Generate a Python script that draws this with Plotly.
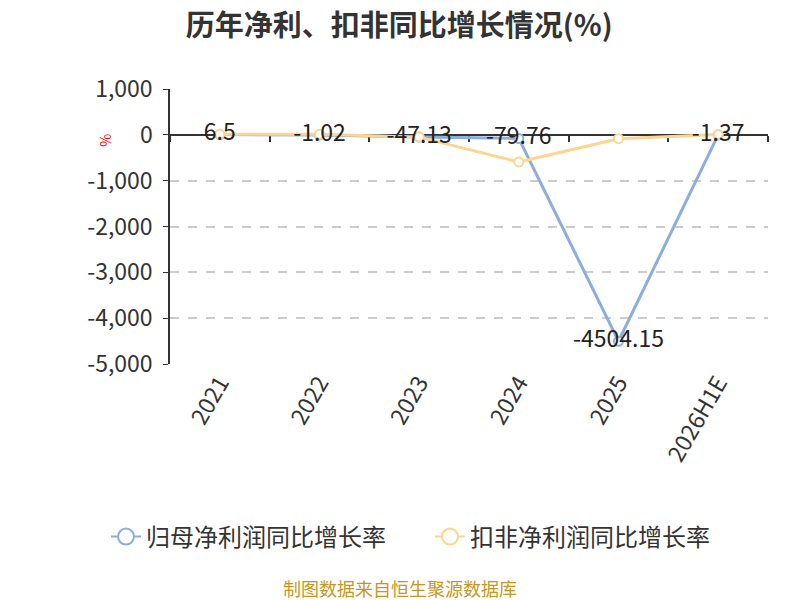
import plotly.graph_objects as go

years = ["2021", "2022", "2023", "2024", "2025", "2026H1E"]
net_profit_yoy = [6.5, -1.02, -47.13, -79.76, -4504.15, -1.37]
deducted_yoy = [10, 10, -50, -590, -85, 5]
net_labels = ["6.5", "-1.02", "-47.13", "-79.76", "-4504.15", "-1.37"]

y_ticks = [1000, 0, -1000, -2000, -3000, -4000, -5000]
y_tick_labels = ["1,000", "0", "-1,000", "-2,000", "-3,000", "-4,000", "-5,000"]

blue = "#8daedc"
orange = "#fdd591"
font_cn = "Noto Sans CJK SC"

fig = go.Figure()

fig.add_trace(go.Scatter(
    x=years, y=net_profit_yoy, mode="lines+markers", showlegend=False,
    line=dict(color=blue, width=3),
    marker=dict(size=9, color="white", line=dict(color=blue, width=2)),
))
fig.add_trace(go.Scatter(
    x=years, y=deducted_yoy, mode="lines+markers", showlegend=False,
    line=dict(color=orange, width=3),
    marker=dict(size=9, color="white", line=dict(color=orange, width=2)),
))
# data labels for the net profit series
fig.add_trace(go.Scatter(
    x=years, y=net_profit_yoy, mode="text", text=net_labels,
    textposition="middle center", showlegend=False, hoverinfo="skip",
    textfont=dict(size=23, color="#222", family=font_cn),
))

# legend entries with big hollow markers
for name, col in [("归母净利润同比增长率", blue), ("扣非净利润同比增长率", orange)]:
    fig.add_trace(go.Scatter(
        x=[None], y=[None], mode="lines+markers", name=name,
        line=dict(color=col, width=2),
        marker=dict(size=20, color="white", line=dict(color=col, width=2)),
    ))

# category axis line drawn at y = 0 with ticks on boundaries
fig.add_trace(go.Scatter(
    x=[-0.5, len(years) - 0.5], y=[0, 0], xaxis="x2", mode="none",
    showlegend=False, hoverinfo="skip",
))

zero_pos = (0 - y_ticks[-1]) / (y_ticks[0] - y_ticks[-1])

# page has an 8px body margin, so the figure is a bit smaller than the window
fig.update_layout(
    width=792, height=592,
    margin=dict(l=162, r=32, t=81, b=236),
    paper_bgcolor="white", plot_bgcolor="white",
    font=dict(family=font_cn, color="#333"),
    title=dict(text="<b>历年净利、扣非同比增长情况(%)</b>", x=0.494, xanchor="center",
               y=0.970, yanchor="middle", font=dict(size=29, color="#333")),
    xaxis=dict(type="category", showline=False, ticks="", showgrid=False,
               zeroline=False, tickangle=-60, tickfont=dict(size=23, color="#333"),
               range=[-0.5, len(years) - 0.5]),
    xaxis2=dict(overlaying="x", anchor="free", position=zero_pos, side="bottom",
                range=[-0.5, len(years) - 0.5], tick0=-0.5, dtick=1,
                showticklabels=False, showgrid=False, zeroline=False,
                showline=True, linecolor="#333", linewidth=1.5, layer="below traces",
                ticks="outside", ticklen=6, tickcolor="#333", tickwidth=1.5),
    yaxis=dict(range=[y_ticks[-1], y_ticks[0]], tickvals=y_ticks, ticktext=y_tick_labels,
               showline=True, linecolor="#333", linewidth=1.5,
               ticks="outside", ticklen=5, tickcolor="#333", ticklabelstandoff=6,
               showgrid=True, gridcolor="#cccccc", griddash="dash", gridwidth=1.5,
               zeroline=False, tickfont=dict(size=23, color="#333")),
    legend=dict(orientation="h", x=-0.107, xanchor="left",
                y=-0.629, yanchor="middle", entrywidth=279, entrywidthmode="pixels",
                font=dict(size=24, color="#333")),
    annotations=[
        dict(text="%", xref="paper", yref="paper", x=-0.13, y=zero_pos + 0.01,
             showarrow=False, textangle=-90, font=dict(size=14, color="red")),
        dict(text="制图数据来自恒生聚源数据库", xref="paper", yref="paper",
             x=0.385, y=-0.814, xanchor="center", yanchor="middle", showarrow=False,
             font=dict(size=18, color="#c8961e")),
    ],
)

fig.write_html("out.html")
